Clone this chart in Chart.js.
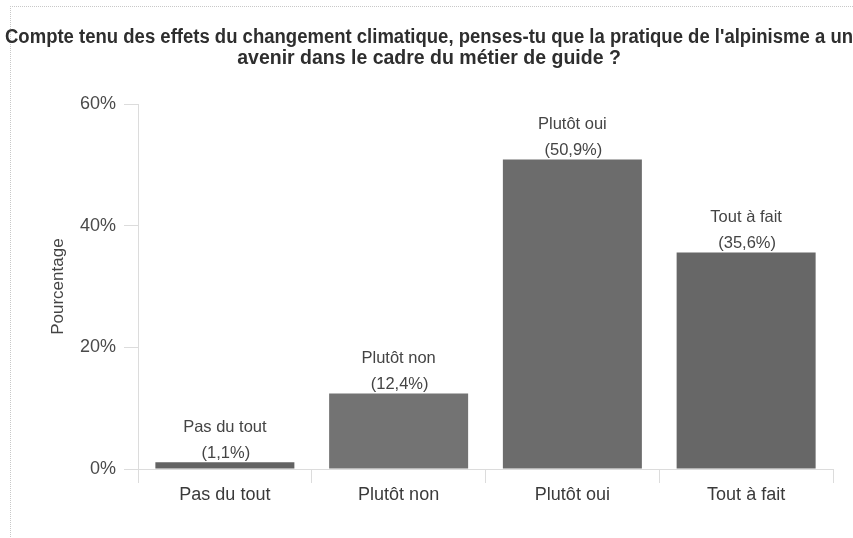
<!DOCTYPE html>
<html>
<head>
<meta charset="utf-8">
<script src="https://cdn.jsdelivr.net/npm/chart.js@4.4.1/dist/chart.umd.min.js"></script>
<style>
  html, body { margin: 0; padding: 0; background: #fff; overflow: hidden; }
  #frame { position: absolute; left: 10px; top: 6px; width: 900px; height: 600px; border-top: 1px dotted #c8c8c8; border-left: 1px dotted #c8c8c8; }
  #wrap { position: absolute; left: 0; top: 0; width: 853px; height: 538px; }
</style>
</head>
<body>
<div id="frame"></div>
<div id="wrap"><canvas id="chart"></canvas></div>
<script>
const categories = ['Pas du tout', 'Plutôt non', 'Plutôt oui', 'Tout à fait'];
const percents = [1.1, 12.4, 50.9, 35.6];
const barColors = ['#636363', '#737373', '#6c6c6c', '#676767'];
const yTicks = [0, 20, 40, 60];
const titleLines = [
  "Compte tenu des effets du changement climatique, penses-tu que la pratique de l'alpinisme a un",
  'avenir dans le cadre du métier de guide ?'
];

const FONT = '"Liberation Sans", Arial, sans-serif';

// labels drawn above each bar: name + (value%)
const barLabels = {
  id: 'barLabels',
  afterDatasetsDraw(chart) {
    const ctx = chart.ctx;
    const meta = chart.getDatasetMeta(0);
    ctx.save();
    ctx.font = '16.5px ' + FONT;
    ctx.fillStyle = '#444';
    ctx.textAlign = 'center';
    ctx.textBaseline = 'middle';
    meta.data.forEach((bar, i) => {
      const pct = '(' + percents[i].toFixed(1).replace('.', ',') + '%)';
      ctx.fillText(pct, bar.x + 1, bar.y - 9);
      ctx.fillText(categories[i], bar.x, bar.y - 35);
    });
    ctx.restore();
  }
};

new Chart(document.getElementById('chart'), {
  type: 'bar',
  data: {
    labels: categories,
    datasets: [{
      data: percents,
      backgroundColor: barColors,
      borderWidth: 0,
      barPercentage: 0.8,
      categoryPercentage: 1
    }]
  },
  plugins: [barLabels],
  options: {
    responsive: true,
    maintainAspectRatio: false,
    animation: false,
    layout: { padding: { left: 5, right: 0, top: 0, bottom: 0 } },
    plugins: {
      legend: { display: false },
      tooltip: { enabled: false },
      title: {
        display: true,
        text: titleLines,
        color: '#2e2e2e',
        font: { family: FONT, size: 19.5, weight: 'bold', lineHeight: 1.03 },
        padding: { top: 28, bottom: 36 }
      }
    },
    scales: {
      x: {
        grid: { display: true, drawOnChartArea: false, offset: true, color: '#dcdcdc', tickLength: 14 },
        border: { color: '#dcdcdc' },
        ticks: { color: '#3a3a3a', padding: 1, font: { family: FONT, size: 18 } },
        afterFit: s => { s.height = 69; }
      },
      y: {
        min: 0, max: 60,
        afterBuildTicks: s => { s.ticks = yTicks.map(v => ({ value: v })); },
        grid: { drawOnChartArea: false, color: '#dcdcdc', tickLength: 14 },
        border: { color: '#dcdcdc' },
        ticks: { color: '#4a4a4a', padding: 8, callback: v => v + '%', font: { family: FONT, size: 18 } },
        title: { display: true, text: 'Pourcentage', color: '#444', padding: { top: 43, bottom: 0 }, font: { family: FONT, size: 17 } },
        afterFit: s => { s.width = 133; }
      },
      // empty right margin so the title box can span the full width
      spacer: {
        position: 'right',
        grid: { display: false },
        border: { display: false },
        ticks: { display: false },
        afterFit: s => { s.width = 20; }
      }
    }
  }
});
</script>
</body>
</html>
